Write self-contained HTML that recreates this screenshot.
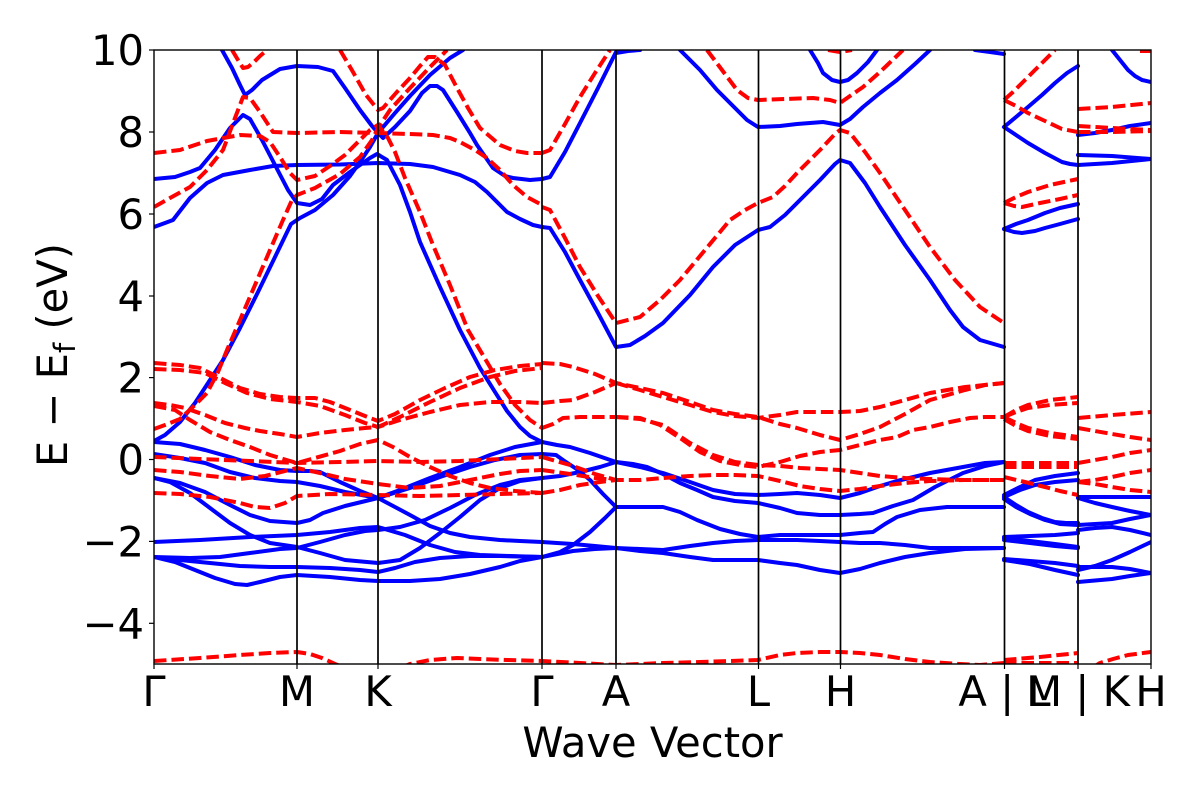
<!DOCTYPE html>
<html><head><meta charset="utf-8"><style>
html,body{margin:0;padding:0;background:#fff;}
svg{display:block;}
text{font-family:"DejaVu Sans","Liberation Sans",sans-serif;fill:#000;}
.b{fill:none;stroke:#0000ff;stroke-width:4;stroke-linejoin:round;stroke-linecap:round;}
.r{fill:none;stroke:#ff0000;stroke-width:4;stroke-linejoin:round;stroke-dasharray:12.5 5;}
.v{stroke:#000;stroke-width:1.7;}
</style></head><body>
<svg width="1200" height="800" viewBox="0 0 1200 800" xmlns="http://www.w3.org/2000/svg">
<rect x="0" y="0" width="1200" height="800" fill="#fff"/>
<defs><clipPath id="c"><rect x="154" y="50" width="997" height="614"/></clipPath></defs>
<g clip-path="url(#c)">
<!-- BLUE -->
<g>
<polyline class="b" points="222,50 232,68 240,85 245,95 252,90 262,80 280,69 297,66 318,67 333,71 345,88 360,110 372,126 378,133 383,138 395,127 410,111 422,93 430,86 437,86 443,90 457,112 470,133 477,145 493,168 505,176 513,178 530,180 542,179"/>
<polyline class="b" points="154,179 175,177 190,172 200,168 215,150 230,128 243,115 250,119 262,140 275,165 288,190 297,203 310,205 322,199 333,185 350,172 360,165 370,158 377,154 387,160 400,185 410,212 420,242 440,287 460,330 480,368 495,392 507,411 520,427 530,436 542,442"/>
<polyline class="b" points="154,227 165,223 173,220 190,198 207,183 223,175 250,170 273,166 297,165 340,164.5 378,163 410,164 433,167 460,175 475,182 487,192 497,202 507,212 520,219 533,225 542,227"/>
<polyline class="b" points="154,441 165,435 180,422 195,403 210,380 223,360 240,328 258,292 275,257 291,224 300,218 315,210 333,195 350,176 360,162 370,147 378,133 395,113 410,96 430,75 450,58 463,50"/>
<polyline class="b" points="154,442 180,444 205,450 230,457 255,465 280,470 297,471 310,471 320,472 340,482 360,491 378,498 400,490 430,478 460,467 490,455 515,447 542,442"/>
<polyline class="b" points="154,454 180,458 205,463 230,472 255,478 280,481 297,482 320,486 345,492 378,498 410,488 440,477 470,467 495,460 520,455 542,454"/>
<polyline class="b" points="154,478 180,483 205,492 230,505 250,515 270,521 297,523 310,520 323,513 345,506 378,498 395,507 410,515 430,526 450,533 470,537 500,540 520,541 542,542"/>
<polyline class="b" points="154,478 170,482 190,493 210,508 230,523 250,535 270,543 297,547 320,553 345,560 378,563 400,560 420,548 440,533 460,517 480,500 500,488 520,481 542,478"/>
<polyline class="b" points="154,542 200,540 250,537 297,535 330,532 360,528 378,527 405,535 430,545 455,552 480,555 510,556 542,557"/>
<polyline class="b" points="154,557 190,558 220,557 250,553 280,549 297,548 320,542 345,535 365,531 378,530 400,527 425,520 450,508 475,495 500,485 520,480 542,478"/>
<polyline class="b" points="154,557 180,560 210,563 240,566 270,567 297,567 330,568 360,570 378,572 395,568 415,562 440,558 470,556 500,556 542,557"/>
<polyline class="b" points="154,557 175,562 195,570 215,578 235,584 247,585 260,582 280,577 297,575 330,577 360,580 378,581 410,581 440,579 470,574 500,567 520,561 542,557"/>
<polyline class="b" points="542,179 550,177 565,152 580,123 598,88 616,52 620,50"/>
<polyline class="b" points="542,227 550,228 565,252 580,280 598,313 616,347 630,345 645,336 663,323 690,295 713,267 735,245 758,230 770,227 785,215 797,203 820,180 835,164 840,160 850,163 865,183 880,207 905,245 930,280 950,310 963,327 980,340 1004,347"/>
<polyline class="b" points="680,50 700,70 717,90 735,108 747,120 758,127 780,126 797,124 823,122 840,125 850,119 863,107 880,93 897,80 915,64 930,50"/>
<polyline class="b" points="810,50 818,63 823,73 832,80 840,82 848,80 857,73 868,62 877,50"/>
<polyline class="b" points="616,53 628,51 640,50"/>
<polyline class="b" points="975,50 990,52 1004,54"/>
<polyline class="b" points="542,442 557,445 570,447 590,453 616,462 640,467 663,473 690,482 713,490 735,494 758,495 780,494 797,493 820,495 840,498 860,493 880,486 897,481 930,473 963,467 985,463 1004,462"/>
<polyline class="b" points="542,454 556,455 563,460 578,470 590,480 603,494 616,507 640,507 663,507 680,512 697,520 720,529 740,534 758,537 780,535 797,535 820,535 840,535 860,533 873,532 885,524 897,517 920,510 947,507 975,507 1004,507"/>
<polyline class="b" points="542,478 560,476 580,472 600,467 616,462 633,464 647,467 663,474 680,483 697,490 713,497 735,501 758,503 780,508 797,513 820,515 840,515 860,514 873,513 893,506 913,500 935,487 963,473 985,466 1004,462"/>
<polyline class="b" points="542,557 560,552 573,545 590,532 605,518 616,507"/>
<polyline class="b" points="542,542 557,543 573,544 595,546 616,548 640,549 663,550 690,546 713,543 735,541 758,540 797,540 820,541 840,542 860,543 880,543 905,545 930,548 965,548 1004,548"/>
<polyline class="b" points="542,557 573,551 595,549 616,548 640,551 663,553 690,557 713,560 735,560 758,560 780,563 797,565 820,570 840,573 860,569 880,563 905,557 930,553 965,549 1004,548"/>
<polyline class="b" points="1004,127 1016,117 1028,107 1042,95 1055,83 1067,73 1078,66"/>
<polyline class="b" points="1004,127 1016,135 1028,143 1045,153 1062,162 1070,164 1078,165"/>
<polyline class="b" points="1004,229 1016,224 1028,220 1045,213 1060,208 1078,204"/>
<polyline class="b" points="1004,229 1014,232 1022,233 1035,231 1045,228 1060,224 1078,219"/>
<polyline class="b" points="1004,495 1020,487 1035,480 1055,476 1078,473"/>
<polyline class="b" points="1004,497 1020,490 1035,485 1055,482 1078,480"/>
<polyline class="b" points="1004,497 1016,505 1028,512 1042,518 1055,522 1066,523 1078,523"/>
<polyline class="b" points="1004,499 1016,507 1030,514 1045,520 1060,524 1078,525"/>
<polyline class="b" points="1004,537 1030,536 1055,535 1078,533"/>
<polyline class="b" points="1004,538 1030,541 1055,544 1078,547"/>
<polyline class="b" points="1004,540 1030,543 1055,546 1078,548"/>
<polyline class="b" points="1004,559 1030,561 1055,563 1078,566"/>
<polyline class="b" points="1004,560 1030,564 1055,570 1078,575"/>
<polyline class="b" points="1112,50 1120,60 1128,70 1135,76 1142,80 1151,82"/>
<polyline class="b" points="1078,135 1095,133 1112,130 1130,126 1151,123"/>
<polyline class="b" points="1078,155 1112,156 1151,159"/>
<polyline class="b" points="1078,165 1112,163 1151,159"/>
<polyline class="b" points="1078,497 1151,497"/>
<polyline class="b" points="1078,498 1095,503 1112,507 1130,511 1151,515"/>
<polyline class="b" points="1078,525 1095,524 1112,523 1130,519 1151,515"/>
<polyline class="b" points="1078,530 1095,528 1112,527 1130,530 1151,535"/>
<polyline class="b" points="1078,570 1095,566 1112,560 1130,552 1151,542"/>
<polyline class="b" points="1078,567 1112,567 1130,569 1151,573"/>
<polyline class="b" points="1078,582 1112,579 1130,576 1151,573"/>
</g>
<!-- RED -->
<g>
<polyline class="r" points="154,153 180,150 207,141 240,135 260,136 270,142 280,157 290,173 297,180 315,176 330,166 345,155 360,140 370,130 378,125 388,138 395,152 405,178 420,212 433,245 450,285 468,330 487,362 500,384 515,405 530,420 542,428"/>
<polyline class="r" points="154,207 170,198 190,187 207,170 223,150 235,118 243,97 250,98 260,112 273,132 297,133 340,132 378,133 410,134 433,135 450,138 460,142 475,150 487,158 500,170 513,185 527,197 542,205"/>
<polyline class="r" points="154,429 165,425 180,419 195,405 207,393 218,372 227,350 240,320 255,285 270,250 283,220 292,200 297,195 315,188 340,174 360,157 372,140 378,128 390,110 410,88 430,67 447,50"/>
<polyline class="r" points="340,50 353,72 366,95 378,110 383,108 396,93 410,78 420,66 428,57 435,57 445,65 457,88 468,108 480,128 500,145 515,151 527,153 542,153"/>
<polyline class="r" points="232,50 238,60 243,68 248,67 253,63 260,56 267,50"/>
<polyline class="r" points="154,363 180,365 200,368 220,378 240,388 260,394 280,397 297,398 315,398 330,402 350,410 365,416 378,421 395,414 420,400 445,388 470,377 495,370 520,366 542,364"/>
<polyline class="r" points="154,369 180,370 205,373 225,383 247,393 270,399 297,402 320,406 345,415 365,423 378,427 400,420 430,412 460,405 490,402 520,402 542,403"/>
<polyline class="r" points="154,403 170,405 185,408 205,415 225,423 245,428 260,431 280,434 297,437 320,433 345,430 365,428 378,427 400,417 430,402 460,388 490,377 515,371 542,368"/>
<polyline class="r" points="154,406 175,410 190,420 210,432 230,440 250,447 270,455 290,461 297,463 315,458 340,451 360,444 378,440 393,447 410,457 430,467 450,476 470,483 490,488 515,491 542,493"/>
<polyline class="r" points="154,457 200,459 250,461 297,463 340,462 378,461 420,462 460,461 500,459 542,457"/>
<polyline class="r" points="154,470 180,472 210,476 240,479 265,476 297,468 320,473 345,479 378,484 410,488 440,486 470,480 500,474 520,471 542,470"/>
<polyline class="r" points="154,493 180,494 210,497 240,503 255,507 270,508 285,503 297,496 330,494 378,495 420,496 460,495 500,494 542,493"/>
<polyline class="r" points="154,661 200,658 240,655 270,653 297,652 310,654 322,658 335,664 345,668"/>
<polyline class="r" points="400,668 410,664 430,660 457,658 480,659 507,660 542,661 580,663 616,665 640,664 663,663 700,662 730,661 758,660 780,655 797,653 820,652 840,652 860,653 880,655 905,659 930,662 960,664 980,665 1004,663"/>
<polyline class="r" points="542,153 550,150 565,124 580,97 595,73 610,50"/>
<polyline class="r" points="542,207 550,210 565,238 580,267 598,296 616,323 640,317 660,300 680,280 705,250 730,220 745,210 758,203 773,197 785,186 797,173 820,150 835,134 840,130 850,133 865,152 880,173 905,210 930,247 955,280 980,307 1004,323"/>
<polyline class="r" points="707,50 722,70 737,90 748,98 758,100 785,99 813,98 830,100 840,103 850,96 863,87 880,72 903,50"/>
<polyline class="r" points="828,50 840,52 852,50"/>
<polyline class="r" points="542,363 560,364 573,367 595,374 616,383 640,388 663,393 690,402 713,410 735,414 758,417 780,424 797,428 820,435 840,440 860,434 880,427 905,414 930,400 965,390 985,385 1004,383"/>
<polyline class="r" points="542,403 560,401 573,400 595,392 616,383"/>
<polyline class="r" points="616,383 640,390 663,397 690,405 713,412 735,416 758,418 780,415 797,412 820,412 840,412 860,411 880,407 905,400 930,393 965,387 1004,383"/>
<polyline class="r" points="542,428 553,424 563,418 580,417 600,417 616,417"/>
<polyline class="r" points="616,417 640,418 660,425 680,438 700,452 720,461 740,465 758,467 780,462 800,456 820,452 840,450 860,445 880,440 897,437 913,430 930,427 950,422 970,418 985,417 1004,417"/>
<polyline class="r" points="616,417 640,419 663,425 690,443 713,455 735,462 758,465 780,466 800,468 820,469 840,470 860,473 880,476 905,478 930,479 965,480 1004,480"/>
<polyline class="r" points="542,470 570,474 595,478 616,480 640,480 663,478 690,476 713,475 735,475 758,476 780,481 800,486 820,489 840,491 860,489 880,486 905,483 930,481 965,480 1004,480"/>
<polyline class="r" points="542,493 560,490 580,485 600,482 616,480"/>
<polyline class="r" points="542,457 570,465 595,474 616,480"/>
<polyline class="r" points="1004,100 1013,92 1022,83 1038,67 1055,50"/>
<polyline class="r" points="1004,100 1016,106 1028,113 1045,121 1062,129 1078,132"/>
<polyline class="r" points="1004,203 1016,197 1028,192 1050,185 1078,179"/>
<polyline class="r" points="1004,203 1014,206 1022,207 1040,203 1060,199 1078,195"/>
<polyline class="r" points="1004,417 1016,410 1028,405 1050,400 1078,397"/>
<polyline class="r" points="1004,417 1016,412 1028,408 1050,405 1078,403"/>
<polyline class="r" points="1004,417 1016,423 1028,428 1050,433 1078,437"/>
<polyline class="r" points="1004,419 1016,426 1028,431 1050,436 1078,439"/>
<polyline class="r" points="1004,463 1078,463"/>
<polyline class="r" points="1004,467 1078,467"/>
<polyline class="r" points="1004,477 1025,482 1045,487 1060,491 1078,495"/>
<polyline class="r" points="1004,660 1040,657 1078,653"/>
<polyline class="r" points="1004,663 1040,663 1078,663"/>
<polyline class="r" points="1140,51 1151,51"/>
<polyline class="r" points="1078,109 1112,107 1151,103"/>
<polyline class="r" points="1078,126 1112,128 1151,130"/>
<polyline class="r" points="1078,132 1112,132 1151,131"/>
<polyline class="r" points="1078,418 1112,415 1151,412"/>
<polyline class="r" points="1078,428 1095,431 1112,434 1130,437 1151,440"/>
<polyline class="r" points="1078,463 1095,460 1112,457 1130,453 1151,450"/>
<polyline class="r" points="1078,482 1095,480 1112,477 1130,473 1151,470"/>
<polyline class="r" points="1078,482 1095,484 1112,487 1130,490 1151,492"/>
<polyline class="r" points="1092,668 1100,663 1113,659 1128,655 1151,652"/>
</g>
</g>
<g class="v">
<line x1="297" y1="50" x2="297" y2="664"/>
<line x1="378" y1="50" x2="378" y2="664"/>
<line x1="542" y1="50" x2="542" y2="664"/>
<line x1="616" y1="50" x2="616" y2="664"/>
<line x1="758.5" y1="50" x2="758.5" y2="664"/>
<line x1="840.5" y1="50" x2="840.5" y2="664"/>
<line x1="1004.5" y1="50" x2="1004.5" y2="664"/>
<line x1="1078" y1="50" x2="1078" y2="664"/>
</g>
<rect x="154" y="50" width="997" height="614" fill="none" stroke="#000" stroke-width="1.4"/>
<g stroke="#000" stroke-width="1.2">
<line x1="149" y1="50" x2="154" y2="50"/>
<line x1="149" y1="132" x2="154" y2="132"/>
<line x1="149" y1="214" x2="154" y2="214"/>
<line x1="149" y1="296" x2="154" y2="296"/>
<line x1="149" y1="377.6" x2="154" y2="377.6"/>
<line x1="149" y1="459.5" x2="154" y2="459.5"/>
<line x1="149" y1="541.4" x2="154" y2="541.4"/>
<line x1="149" y1="623.3" x2="154" y2="623.3"/>
<line x1="154" y1="664" x2="154" y2="669"/>
<line x1="297" y1="664" x2="297" y2="669"/>
<line x1="378" y1="664" x2="378" y2="669"/>
<line x1="542" y1="664" x2="542" y2="669"/>
<line x1="616" y1="664" x2="616" y2="669"/>
<line x1="758.5" y1="664" x2="758.5" y2="669"/>
<line x1="840.5" y1="664" x2="840.5" y2="669"/>
<line x1="1004.5" y1="664" x2="1004.5" y2="669"/>
<line x1="1078" y1="664" x2="1078" y2="669"/>
<line x1="1151" y1="664" x2="1151" y2="669"/>
</g>
<g font-size="41.67" text-anchor="end">
<text x="144" y="65">10</text>
<text x="144" y="147">8</text>
<text x="144" y="229">6</text>
<text x="144" y="311">4</text>
<text x="144" y="392.6">2</text>
<text x="144" y="474.5">0</text>
<text x="144" y="556.4">−2</text>
<text x="144" y="638.3">−4</text>
</g>
<g font-size="41.67" text-anchor="middle">
<text x="154" y="706">Γ</text>
<text x="297" y="706">M</text>
<text x="378" y="706">K</text>
<text x="542" y="706">Γ</text>
<text x="616" y="706">A</text>
<text x="758.5" y="706">L</text>
<text x="840.5" y="706">H</text>
<text x="1004.5" y="706" xml:space="preserve">A | L</text>
<text x="1078" y="706" xml:space="preserve">M | K</text>
<text x="1151" y="706">H</text>
</g>
<text x="652.5" y="757" font-size="41.67" text-anchor="middle">Wave Vector</text>
<text transform="translate(67,355) rotate(-90)" font-size="41.67" text-anchor="middle">E − E<tspan font-size="29" dy="8">f</tspan><tspan dy="-8"> (eV)</tspan></text>
</svg>
</body></html>
